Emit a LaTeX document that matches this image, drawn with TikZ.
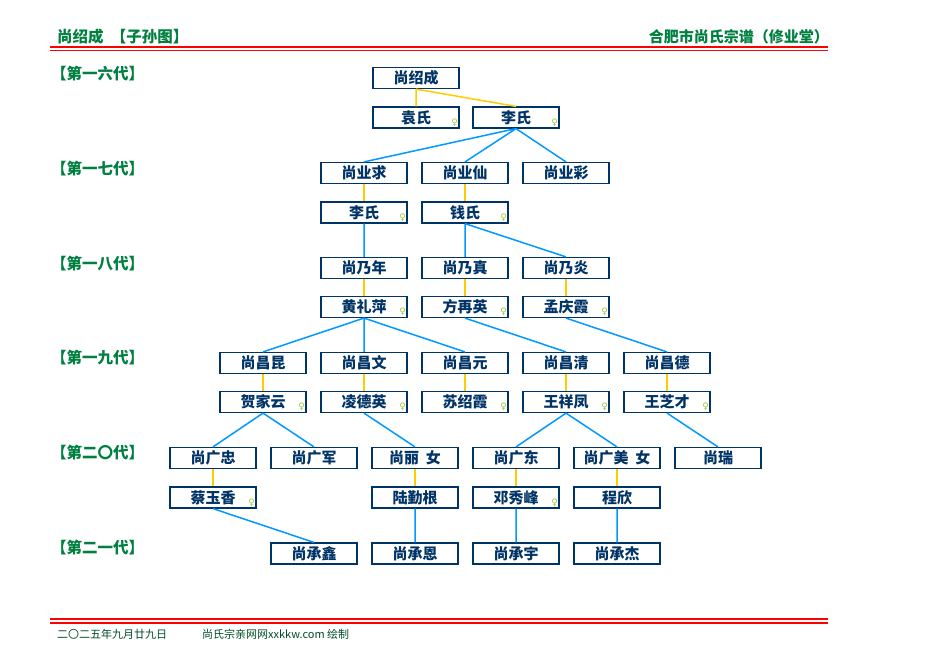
\documentclass[tikz,border=0pt]{standalone}
\usepackage{fontspec}
\usepackage{xcolor}
\usepackage{tikz}
\newfontfamily\cjk{Noto Sans CJK SC}
\newfontfamily\sym{DejaVu Sans}
\definecolor{navy}{HTML}{003366}
\definecolor{tgreen}{HTML}{008040}
\definecolor{fgreen}{HTML}{004D26}
\definecolor{sky}{HTML}{0099FF}
\definecolor{gold}{HTML}{FFCC00}
\definecolor{fmark}{HTML}{99CC33}

\begin{document}
\begin{tikzpicture}[x=1pt,y=-1pt,
		p/.style={draw=navy,line width=1.2pt,minimum width=86pt,minimum height=21pt,inner sep=0pt,text=navy,font=\cjk\bfseries\fontsize{15}{15}\selectfont},
		w/.style={p,label={[anchor=center,inner sep=0pt,xshift=-5pt,yshift=6pt,text=fmark,font=\sym\fontsize{9}{9}\selectfont]south east:♀}},
		g/.style={anchor=west,inner sep=0pt,text=tgreen,font=\cjk\bfseries\fontsize{15.5}{15.5}\selectfont},
		sp/.style={gold,line width=1.5pt},ch/.style={sky,line width=1.5pt}]
				\fill[white] (0,0) rectangle (926,670);
				\useasboundingbox (0,0) rectangle (926,670);
				\node[g] (title) at (57,37) {尚绍成\ \ 【子孙图】};
				\node[g,anchor=east,font=\cjk\bfseries\fontsize{15}{15}\selectfont] (book) at (829,37) {合肥市尚氏宗谱（修业堂）};
				\draw[red,line width=1.2pt] (50,47) -- (828,47) (50,50.5) -- (828,50.5);
				\draw[red,line width=1.2pt] (50,619) -- (828,619) (50,623) -- (828,623);
				\node[anchor=west,inner sep=0pt,text=fgreen,font=\cjk\fontsize{11}{11}\selectfont] (date) at (57,634) {二〇二五年九月廿九日};
				\node[anchor=west,inner sep=0pt,text=fgreen,font=\cjk\fontsize{11}{11}\selectfont] (site) at (202,634) {尚氏宗亲网网xxkkw.com 绘制};
				\node[g] (g16) at (51,74) {【第一六代】};
				\node[g] (g17) at (51,169) {【第一七代】};
				\node[g] (g18) at (51,264) {【第一八代】};
				\node[g] (g19) at (51,358) {【第一九代】};
				\node[g] (g20) at (51,453) {【第二〇代】};
				\node[g] (g21) at (51,548) {【第二一代】};
				\node[p] (shao) at (416,78) {尚绍成};
				\node[w] (yuan16) at (416,117.5) {袁氏};
				\node[w] (li16) at (516,117.5) {李氏};
				\node[p] (qiu) at (364,173) {尚业求};
				\node[p] (xian) at (465,173) {尚业仙};
				\node[p] (cai) at (566,173) {尚业彩};
				\node[w] (li17) at (364,212.5) {李氏};
				\node[w] (qian) at (465,212.5) {钱氏};
				\node[p] (nian) at (364,268) {尚乃年};
				\node[p] (zhen) at (465,268) {尚乃真};
				\node[p] (yan) at (566,268) {尚乃炎};
				\node[w] (hlp) at (364,307) {黄礼萍};
				\node[w] (fzy) at (465,307) {方再英};
				\node[w] (mqx) at (566,307) {孟庆霞};
				\node[p] (kun) at (263,363) {尚昌昆};
				\node[p] (wen) at (364,363) {尚昌文};
				\node[p] (cyuan) at (465,363) {尚昌元};
				\node[p] (qing) at (566,363) {尚昌清};
				\node[p] (de) at (667,363) {尚昌德};
				\node[w] (hjy) at (263,402) {贺家云};
				\node[w] (ldy) at (364,402) {凌德英};
				\node[w] (szx) at (465,402) {苏绍霞};
				\node[w] (wxf) at (566,402) {王祥凤};
				\node[w] (wzc) at (667,402) {王芝才};
				\node[p] (zhong) at (213,458) {尚广忠};
				\node[p] (jun) at (314,458) {尚广军};
				\node[p] (lin) at (415,458) {尚丽\ \ 女};
				\node[p] (dong) at (516,458) {尚广东};
				\node[p] (mei) at (617,458) {尚广美\ \ 女};
				\node[p] (rui) at (718,458) {尚瑞};
				\node[w] (cyx) at (213,497.5) {蔡玉香};
				\node[p] (lqg) at (415,497.5) {陆勤根};
				\node[w] (dxf) at (516,497.5) {邓秀峰};
				\node[p] (cx) at (617,497.5) {程欣};
				\node[p] (xin) at (314,553.5) {尚承鑫};
				\node[p] (en) at (415,553.5) {尚承恩};
				\node[p] (yu) at (516,553.5) {尚承宇};
				\node[p] (jie) at (617,553.5) {尚承杰};
				\draw[sp] (shao.south) -- (yuan16.north) (shao.south) -- (li16.north);
				\draw[ch] (li16.south) -- (qiu.north) (li16.south) -- (xian.north) (li16.south) -- (cai.north);
				\draw[sp] (qiu) -- (li17) (xian) -- (qian);
				\draw[ch] (li17) -- (nian) (qian) -- (zhen) (qian.south) -- (yan.north);
				\draw[sp] (nian) -- (hlp) (zhen) -- (fzy) (yan) -- (mqx);
				\draw[ch] (hlp.south) -- (kun.north) (hlp) -- (wen) (hlp.south) -- (cyuan.north);
				\draw[ch] (fzy.south) -- (qing.north) (mqx.south) -- (de.north);
				\draw[sp] (kun) -- (hjy) (wen) -- (ldy) (cyuan) -- (szx) (qing) -- (wxf) (de) -- (wzc);
				\draw[ch] (hjy.south) -- (zhong.north) (hjy.south) -- (jun.north) (ldy.south) -- (lin.north);
				\draw[ch] (wxf.south) -- (dong.north) (wxf.south) -- (mei.north) (wzc.south) -- (rui.north);
				\draw[sp] (zhong) -- (cyx) (lin) -- (lqg) (dong) -- (dxf) (mei) -- (cx);
				\draw[ch] (cyx.south) -- (xin.north) (lqg) -- (en) (dxf) -- (yu) (cx) -- (jie);
			\end{tikzpicture}
\end{document}
